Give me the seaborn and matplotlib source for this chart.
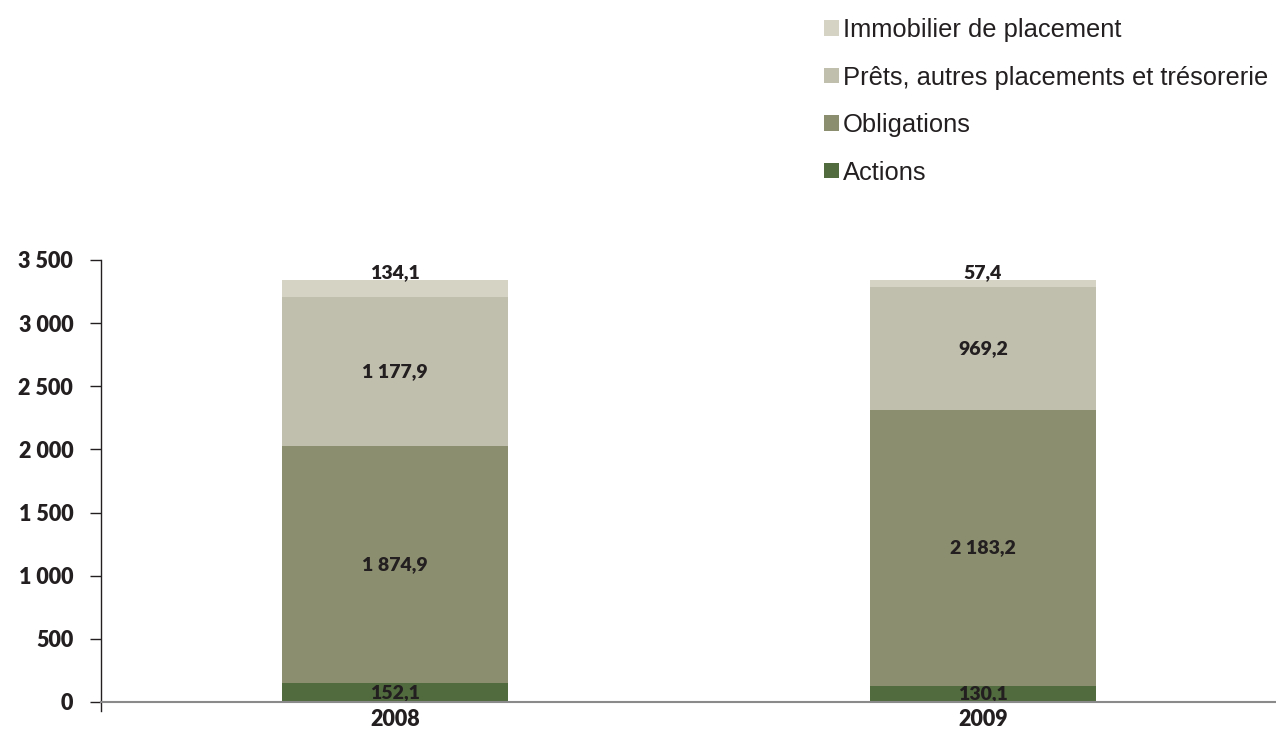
import numpy as np
import pandas as pd
import matplotlib
matplotlib.use("Agg")
import matplotlib.pyplot as plt
from matplotlib.patches import Patch
import seaborn as sns

# Data (millions)
years = ["2008", "2009"]
series_names = ["Actions", "Obligations", "Prêts, autres placements et trésorerie", "Immobilier de placement"]
actions = [152.1, 130.1]
obligations = [1874.9, 2183.2]
prets = [1177.9, 969.2]
immobilier = [134.1, 57.4]
colors = ["#516a3e", "#8c8f6f", "#c0bead", "#d5d3c4"]
y_ticks = [0, 500, 1000, 1500, 2000, 2500, 3000, 3500]

sns.set_theme(style="white")
plt.rcParams["font.family"] = ["Lato", "DejaVu Sans"]

values = [actions, obligations, prets, immobilier]
df = pd.DataFrame({"year": years})
for name, v in zip(series_names, values):
    df[name] = v
cum = df[series_names].cumsum(axis=1)

fig = plt.figure(figsize=(12.76, 7.51), dpi=100)
ax = fig.add_axes([101 / 1276, 49 / 751, 1176 / 1276, 442 / 751])

# stacked bars: draw cumulative totals from the top layer down
bar_w = 0.385
for i in range(len(series_names) - 1, -1, -1):
    sns.barplot(x=df["year"], y=cum[series_names[i]], color=colors[i],
                width=bar_w, saturation=1, ax=ax, linewidth=0, zorder=2)

# value labels
for j, yr in enumerate(years):
    bottom = 0.0
    for i, name in enumerate(series_names):
        v = df[name][j]
        txt = f"{v:,.1f}".replace(",", " ").replace(".", ",")
        if i == len(series_names) - 1:
            ypos = bottom + v + 60
        else:
            ypos = bottom + v / 2
        ax.text(j, ypos, txt, ha="center", va="center", fontsize=14,
                fontweight="heavy", color="#231f20", zorder=5)
        bottom += v

ax.set_xlim(-0.5, 1.5)
ax.set_ylim(0, 3500)
ax.set_yticks(y_ticks)
ax.set_yticklabels([f"{t:,}".replace(",", " ") for t in y_ticks],
                   fontsize=15.5, fontweight="heavy", color="#231f20")
ax.set_xticks(range(len(years)))
ax.set_xticklabels(years, fontsize=15.5, fontweight="heavy", color="#231f20")
ax.tick_params(axis="x", which="major", length=0, pad=5)
ax.set_xticks([0.5], minor=True)
ax.tick_params(axis="x", which="minor", length=8, width=1, color="#231f20", direction="out")
ax.tick_params(axis="y", length=8, width=1, color="#231f20", direction="out", pad=12, left=True)
ax.set_xlabel("")
ax.set_ylabel("")

for s in ["top", "right"]:
    ax.spines[s].set_visible(False)
ax.spines["left"].set_color("#231f20")
ax.spines["left"].set_linewidth(1)
ax.spines["left"].set_bounds(-75, 3500)
ax.spines["bottom"].set_color("#8a8a8a")
ax.spines["bottom"].set_linewidth(1.5)
ax.spines["bottom"].set_zorder(6)
ax.grid(False)

handles = [Patch(facecolor=colors[i], edgecolor="none", label=series_names[i])
           for i in range(len(series_names) - 1, -1, -1)]
leg = fig.legend(handles=handles, loc="upper left", bbox_to_anchor=(801 / 1276, 1 + 5 / 751),
                 frameon=False, prop={"family": ["Liberation Sans", "DejaVu Sans"], "size": 18.4},
                 handlelength=0.58, handleheight=0.58, handletextpad=0.15, labelspacing=0.92,
                 labelcolor="#231f20")

fig.savefig("out.png", dpi=100)
